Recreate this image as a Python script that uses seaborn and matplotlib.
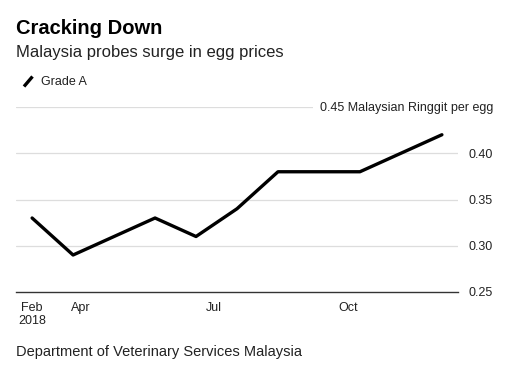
import pandas as pd
import seaborn as sns
import matplotlib.pyplot as plt
from matplotlib.lines import Line2D

# Grade A egg price, sampled every four weeks
dates = ['2018-02-27', '2018-03-27', '2018-04-24', '2018-05-22', '2018-06-19',
         '2018-07-17', '2018-08-14', '2018-09-11', '2018-10-09', '2018-11-06',
         '2018-12-04']
grade_a = [0.33, 0.29, 0.31, 0.33, 0.31, 0.34, 0.38, 0.38, 0.38, 0.40, 0.42]

tick_dates = ['2018-02-27', '2018-04-01', '2018-07-01', '2018-10-01']
tick_labels = ['Feb\n2018', 'Apr', 'Jul', 'Oct']
y_ticks = [0.25, 0.30, 0.35, 0.40, 0.45]
y_labels = ['0.25', '0.30', '0.35', '0.40', '0.45 Malaysian Ringgit per egg']

df = pd.DataFrame({'Date': pd.to_datetime(dates), 'Price': grade_a})

sns.set_style("white")
plt.rcParams['font.family'] = ['Liberation Sans', 'DejaVu Sans']

fig = plt.figure(figsize=(5.11, 3.76), dpi=100)
ax = fig.add_axes([16 / 511, 1 - 292 / 376, 442 / 511, 185 / 376])

sns.lineplot(data=df, x='Date', y='Price', color='black', linewidth=2.4, ax=ax)

ax.set_xlim(pd.Timestamp('2018-02-16'), pd.Timestamp('2018-12-15'))
ax.set_ylim(0.25, 0.45)
ax.set_xlabel('')
ax.set_ylabel('')

ax.set_xticks(pd.to_datetime(tick_dates))
ax.set_xticklabels(tick_labels, fontsize=9, color='#222222', linespacing=1.15)
ax.tick_params(axis='x', length=4, width=0.8, color='#333333', pad=3)

# y labels drawn on the right, right-aligned
ax.set_yticks([])
ytrans = ax.get_yaxis_transform()
for y, lab in zip(y_ticks, y_labels):
    if y > 0.25:
        ax.axhline(y, color='#dddddd', linewidth=0.9, zorder=0)
    t = ax.text(1 + 35 / 442, y, lab, transform=ytrans, ha='right',
                va='center_baseline', fontsize=9, color='#222222', clip_on=False)
    if 'Ringgit' in lab:
        t.set_bbox(dict(facecolor='white', edgecolor='none', pad=5))

for side in ['top', 'right', 'left']:
    ax.spines[side].set_visible(False)
ax.spines['bottom'].set_color('#333333')
ax.spines['bottom'].set_linewidth(1.0)

fig.text(16 / 511, 1 - 28 / 376, 'Cracking Down', fontsize=14.5, fontweight='bold',
         va='center', ha='left', color='black')
fig.text(16 / 511, 1 - 52 / 376, 'Malaysia probes surge in egg prices', fontsize=12,
         va='center', ha='left', color='#222222')
fig.add_artist(Line2D([24 / 511, 32.5 / 511], [1 - 86.5 / 376, 1 - 76.5 / 376],
                      color='black', linewidth=2.4, solid_capstyle='butt'))
fig.text(41 / 511, 1 - 82 / 376, 'Grade A', fontsize=9, va='center', ha='left',
         color='#222222')
fig.text(16 / 511, 1 - 352 / 376, 'Department of Veterinary Services Malaysia',
         fontsize=10.5, va='center', ha='left', color='#222222')

fig.savefig('out.png', dpi=100)
